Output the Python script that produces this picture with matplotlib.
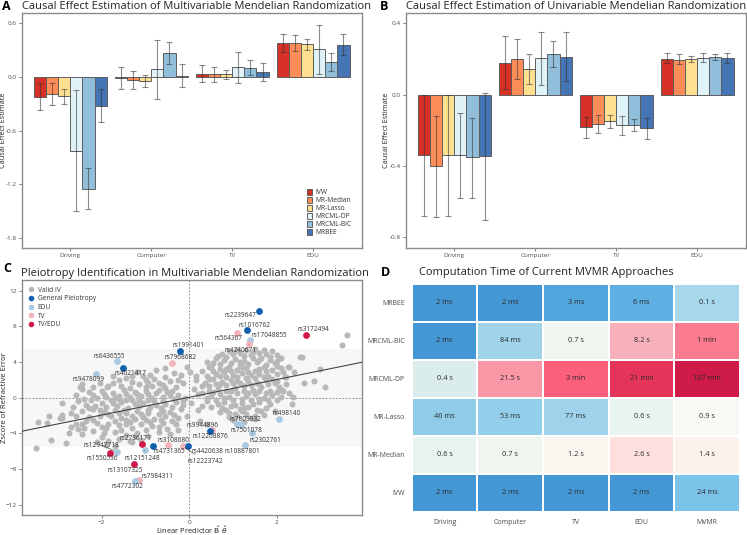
import numpy as np
import matplotlib
matplotlib.use("Agg")
import matplotlib.pyplot as plt
from matplotlib.colors import LinearSegmentedColormap, Normalize
from matplotlib.lines import Line2D

plt.rcParams['font.family'] = ['Open Sans', 'DejaVu Sans']

# ---------------- data ----------------
exposures = ["Driving", "Computer", "TV", "EDU"]
methods = ["IVW", "MR-Median", "MR-Lasso", "MRCML-DP", "MRCML-BIC", "MRBEE"]
method_colors = ["#d73027", "#fc8d59", "#fee090", "#e0f3f8", "#91bfdb", "#4575b4"]

# panel A: multivariable MR (rows = methods, cols = exposures)
mvmr_est = [[-0.220, -0.010, 0.037, 0.376],
            [-0.194, -0.034, 0.030, 0.376],
            [-0.216, -0.040, 0.034, 0.365],
            [-0.830, 0.086, 0.108, 0.309],
            [-1.256, 0.265, 0.100, 0.168],
            [-0.320, 0.015, 0.052, 0.360]]
mvmr_lo = [[-0.370, -0.130, -0.060, 0.276],
           [-0.317, -0.138, -0.056, 0.287],
           [-0.305, -0.108, -0.022, 0.298],
           [-1.500, -0.250, -0.063, 0.030],
           [-1.480, 0.142, 0.019, 0.063],
           [-0.507, -0.116, -0.048, 0.246]]
mvmr_hi = [[-0.070, 0.108, 0.134, 0.477],
           [-0.070, 0.063, 0.116, 0.466],
           [-0.130, 0.026, 0.082, 0.429],
           [-0.145, 0.410, 0.283, 0.578],
           [-1.020, 0.388, 0.186, 0.272],
           [-0.138, 0.142, 0.153, 0.477]]

# panel B: univariable MR
uvmr_est = [[-0.336, 0.179, -0.179, 0.202],
            [-0.400, 0.198, -0.164, 0.196],
            [-0.336, 0.142, -0.150, 0.200],
            [-0.340, 0.204, -0.172, 0.207],
            [-0.351, 0.226, -0.170, 0.209],
            [-0.346, 0.209, -0.189, 0.204]]
uvmr_lo = [[-0.677, 0.030, -0.245, 0.176],
           [-0.684, 0.086, -0.217, 0.172],
           [-0.677, 0.060, -0.189, 0.185],
           [-0.578, 0.052, -0.226, 0.183],
           [-0.578, 0.153, -0.204, 0.194],
           [-0.700, 0.075, -0.250, 0.178]]
uvmr_hi = [[0.000, 0.331, -0.123, 0.232],
           [-0.120, 0.310, -0.114, 0.226],
           [0.000, 0.230, -0.116, 0.219],
           [-0.105, 0.353, -0.118, 0.232],
           [-0.129, 0.300, -0.138, 0.226],
           [0.011, 0.350, -0.129, 0.232]]

# panel C: valid IVs (grey cloud)
valid_iv = [
    (-0.55, 3.3), (-0.9, 2.6), (-1.2, 2.9), (-0.35, 2.8), (-0.75, 3.1), (-1.45, 2.2), (-0.2, 2.5), (-1.05, 2.4),
    (-2.45, 1.5), (-2.2, 1.2), (-1.85, 1.3), (-1.6, 2.0), (-1.3, 1.8), (-1.0, 2.0), (-0.7, 1.7), (-0.45, 1.9),
    (-0.15, 1.6), (-1.15, 1.5), (-0.85, 1.3), (-0.55, 1.1), (-0.3, 1.2), (-2.5, 1.2), (-2.45, 1.0), (-1.87, 1.16),
    (-2.6, 0.3), (-2.3, 0.6), (-2.0, 0.8), (-1.75, 0.5), (-1.5, 0.9), (-1.25, 0.6), (-1.0, 0.8), (-0.75, 0.5),
    (-0.5, 0.6), (-0.25, 0.3), (-1.9, 0.1), (-1.6, 0.2), (-1.35, 0.1), (-1.1, 0.2), (-0.85, 0.0), (-0.6, 0.1),
    (-0.35, -0.1), (-0.1, 0.0), (-2.12, -0.03),
    (-2.9, -0.6), (-2.55, -0.4), (-2.25, -0.3), (-2.0, -0.6), (-1.8, -0.2), (-1.55, -0.5), (-1.3, -0.3),
    (-1.05, -0.6), (-0.8, -0.4), (-0.55, -0.7), (-0.3, -0.5), (-2.15, -0.9), (-1.9, -1.0), (-1.65, -0.9),
    (-1.4, -1.1), (-1.15, -0.9), (-0.9, -1.0), (-0.65, -1.2), (-0.4, -1.0),
    (-2.9, -1.9), (-2.7, -1.7), (-2.45, -1.5), (-2.2, -1.3), (-1.95, -1.6), (-1.7, -1.4), (-1.45, -1.7),
    (-1.2, -1.5), (-0.95, -1.4), (-0.7, -1.8), (-0.45, -1.6), (-0.2, -1.3), (-2.05, -2.0), (-1.8, -2.1),
    (-1.55, -2.3), (-1.3, -2.0), (-1.05, -2.2), (-0.8, -2.4), (-0.55, -2.1),
    (-3.25, -2.8), (-2.9, -2.3), (-2.6, -3.0), (-2.35, -2.6), (-2.1, -2.8), (-1.85, -2.9), (-1.6, -3.1),
    (-1.35, -2.7), (-1.1, -3.0), (-0.85, -3.2), (-0.6, -2.8), (-0.3, -3.0), (-2.4, -3.4),
    (-2.75, -3.9), (-2.45, -4.1), (-2.2, -3.7), (-1.95, -4.0), (-1.7, -3.8), (-1.45, -4.2), (-1.2, -3.9),
    (-0.95, -4.3), (-0.7, -3.8), (-0.45, -4.1), (-1.6, -4.6), (-1.85, -4.8), (-1.35, -4.9), (-1.1, -4.7),
    (-3.5, -5.6), (-3.15, -4.75), (-2.82, -5.1), (-2.1, -5.0), (-1.9, -5.3), (-1.7, -5.45), (-1.3, -5.0),
    (-3.45, -2.75), (-3.2, -2.0), (-2.95, -2.3), (-2.7, -3.3), (-2.55, -3.5), (-2.65, -1.0), (-2.35, -0.8),
    (-1.7, 0.0), (-1.45, -0.2), (-1.2, 0.4), (-0.95, -0.2), (-1.55, 1.3), (-0.7, 0.9), (-0.4, 0.8),
    (-1.75, -0.6), (-1.25, -0.7), (-0.75, -0.8), (-1.6, -1.7), (-1.1, -1.8), (-0.6, -1.5), (-2.3, -2.2),
    (-1.45, -2.5), (-0.9, -2.7), (-2.0, -3.3), (-1.3, -3.4), (-0.5, -3.5), (-1.95, 0.45), (-0.25, -2.3),
    (-1.0, 1.2), (-0.55, 2.3), (-1.35, 1.1), (-2.05, -1.35), (-2.6, -2.0),
    (-2.05, 1.7), (-1.75, 1.7), (-0.95, 1.65), (-0.6, 1.45), (-0.25, 2.0), (-2.2, 0.25), (-1.45, 0.45),
    (-0.95, 0.45), (-0.45, 0.25), (-0.15, -0.35), (-2.4, -0.15), (-1.6, -0.15), (-1.15, -0.3),
    (-0.6, -0.35), (-2.3, -1.1), (-1.5, -1.35), (-0.95, -1.75), (-0.35, -1.95), (-1.85, -1.8),
    (-1.25, -2.35), (-0.65, -2.45), (-2.2, -2.45), (-1.7, -2.6), (-1.0, -2.5), (-0.4, -2.6),
    (-1.45, -3.0), (-0.7, -3.3), (-1.9, -3.45), (-1.55, -3.6), (-1.0, -3.6), (-2.45, -3.0),
    (-1.25, -4.3), (-2.0, -4.4), (-0.25, -3.6), (-0.15, -0.8), (-0.8, 2.1), (-1.3, 2.4), (-1.75, 2.4),
    (-0.06, 3.48), (0.02, 2.9), (0.15, 2.4), (0.1, 1.0), (0.05, -0.6), (0.2, -1.4), (-0.05, -2.0),
    (0.25, -2.6), (0.4, -3.0), (0.2, 0.4), (0.3, -0.9),
    (0.9, 5.2), (1.1, 5.4), (1.3, 5.3), (1.5, 5.5), (1.7, 5.4), (1.9, 5.2), (1.45, 5.1), (1.75, 4.9),
    (2.0, 4.8), (0.75, 4.9),
    (0.4, 4.0), (0.6, 4.4), (0.85, 4.6), (1.05, 4.3), (1.25, 4.7), (1.45, 4.4), (1.65, 4.5), (1.85, 4.2),
    (2.1, 4.5), (0.95, 3.9), (1.35, 3.8), (1.55, 4.0), (1.75, 3.7), (0.7, 3.8), (1.15, 3.6), (1.95, 3.9),
    (0.3, 3.0), (0.5, 3.4), (0.7, 3.2), (0.9, 3.5), (1.1, 3.1), (1.3, 3.3), (1.5, 3.0), (1.7, 3.4),
    (1.9, 3.1), (2.1, 3.3), (2.28, 3.5), (0.6, 2.7), (0.8, 2.9), (1.0, 2.6), (1.2, 2.8), (1.4, 2.5),
    (1.6, 2.7), (1.8, 2.4), (2.0, 2.7), (2.2, 2.3), (0.4, 2.4),
    (0.15, 2.0), (0.35, 1.7), (0.55, 2.1), (0.75, 1.8), (0.95, 2.0), (1.15, 1.6), (1.35, 1.9), (1.55, 1.7),
    (1.75, 2.0), (1.95, 1.6), (0.45, 1.3), (0.65, 1.0), (0.85, 1.4), (1.05, 1.1), (1.25, 1.3), (1.45, 0.9),
    (1.65, 1.2), (1.85, 0.8), (2.05, 1.2), (2.2, 1.5),
    (0.3, 0.5), (0.5, 0.2), (0.7, 0.4), (0.9, 0.1), (1.1, 0.5), (1.3, 0.2), (1.5, 0.4), (1.7, 0.0),
    (1.9, 0.3), (2.1, 0.1), (0.6, -0.3), (0.8, -0.5), (1.0, -0.2), (1.2, -0.6), (1.4, -0.3), (1.6, -0.5),
    (1.8, -0.2), (0.5, -1.0), (0.75, -1.2), (0.95, -0.9), (1.15, -1.3), (1.35, -1.0), (1.55, -1.4),
    (1.75, -1.1), (1.95, -1.5), (0.9, -1.7), (1.1, -2.0), (1.3, -1.8), (1.5, -2.1), (1.7, -1.9),
    (1.0, -2.5), (1.25, -2.7), (1.5, -2.4),
    (3.6, 7.0), (3.48, 5.87), (2.99, 3.18), (3.09, 1.23), (2.86, 1.87), (2.63, 1.68), (2.29, 0.52),
    (2.35, -0.71), (2.19, 2.28), (2.53, 4.52), (2.57, 4.6), (2.4, 2.9), (2.26, 3.48), (2.37, 0.1),
    (2.11, 0.86),
    (1.0, 4.9), (1.6, 5.0), (0.55, 3.9), (1.25, 4.1), (0.85, 2.3), (1.3, 2.2), (1.7, 2.3), (0.6, 1.5),
    (1.0, 1.6), (1.4, 1.4), (1.8, 1.5), (0.45, 0.8), (0.85, 0.8), (1.25, 0.8), (1.6, 0.7), (2.0, 0.6),
    (0.4, -0.4), (1.05, -0.8), (1.45, -0.7), (0.7, -1.6), (1.2, -1.5), (1.85, -0.7),
    (0.65, 4.7), (1.15, 5.0), (1.4, 4.8), (1.85, 4.6), (0.8, 4.2), (1.15, 4.0), (1.6, 4.25), (2.0, 4.1),
    (0.45, 3.5), (0.85, 3.2), (1.2, 3.45), (1.6, 3.25), (2.0, 3.55), (0.55, 2.95), (0.95, 3.0),
    (1.35, 2.85), (1.75, 2.95), (2.15, 2.9), (0.45, 2.1), (0.7, 2.4), (1.1, 2.3), (1.5, 2.2), (1.9, 2.1),
    (0.3, 1.3), (0.7, 1.55), (1.1, 1.9), (1.6, 1.5), (2.0, 1.9), (0.55, 0.6), (0.95, 0.75), (1.35, 0.55),
    (1.75, 0.5), (2.15, 0.8), (0.4, 0.0), (0.8, 0.0), (1.2, -0.1), (1.6, -0.1), (2.0, -0.3),
    (0.65, -0.75), (0.85, -1.35), (1.25, -1.15), (1.65, -1.5), (1.05, -1.8), (1.4, -2.3), (0.9, -2.2),
]

# flagged IVs: name, x, y, group
flag_names = ["rs2239647", "rs1016762", "rs17048855", "rs564367", "rs3172494", "rs4240671",
              "rs1991401", "rs7968682", "rs6436555", "rs4021417", "rs9478099", "rs498140",
              "rs7809932", "rs7501078", "rs2302761", "rs10887801", "rs12208876", "rs9944896",
              "rs12223742", "rs4420638", "rs3108680", "rs4731365", "rs2736171", "rs12947718",
              "rs1550536", "rs12151248", "rs13107325", "rs7984311", "rs4772302"]
flag_x = [1.585, 1.326, 1.379, 1.09, 2.66, 1.364, -0.213, -0.389, -1.646, -1.524, -2.126, 2.04,
          1.10, 1.19, 1.425, 1.28, 0.53, 0.48, -0.15, -0.02, -0.49, -0.82, -1.07, -1.65,
          -1.81, -1.02, -1.26, -1.14, -1.23]
flag_y = [9.72, 7.55, 6.47, 7.29, 7.07, 5.98, 5.23, 3.93, 4.07, 3.36, 2.65, -2.36,
          -2.99, -3.10, -4.0, -5.35, -3.62, -3.73, -5.42, -5.42, -5.34, -5.38, -5.19, -6.05,
          -6.2, -5.9, -7.43, -9.23, -9.34]
flag_group = ["General Pleiotropy", "General Pleiotropy", "EDU", "TV", "TV/EDU", "TV",
              "General Pleiotropy", "TV", "EDU", "General Pleiotropy", "EDU", "EDU",
              "EDU", "EDU", "EDU", "EDU", "TV", "General Pleiotropy",
              "TV", "General Pleiotropy", "TV", "General Pleiotropy", "TV/EDU", "EDU",
              "TV/EDU", "EDU", "TV/EDU", "TV", "EDU"]
# where each label text sits (data coords) and whether a segment is drawn
label_x = [1.17, 1.50, 1.83, 0.90, 2.84, 1.18, -0.02, -0.21, -1.83, -1.34, -2.31, 2.22,
           1.29, 1.31, 1.74, 1.22, 0.49, 0.30, 0.37, 0.42, -0.37, -0.46, -1.24, -2.0,
           -1.98, -1.07, -1.46, -0.72, -1.42]
label_y = [9.27, 8.15, 6.99, 6.62, 7.63, 5.27, 5.87, 4.52, 4.67, 2.69, 2.06, -1.76,
           -2.39, -3.63, -4.82, -6.06, -4.30, -3.10, -7.18, -6.06, -4.75, -6.06, -4.60, -5.35,
           -6.84, -6.84, -8.11, -8.86, -9.98]
label_segment = ["rs4240671", "rs2302761", "rs12223742", "rs12947718", "rs12151248"]

group_names = ["Valid IV", "General Pleiotropy", "EDU", "TV", "TV/EDU"]
group_colors = ["#b8b8b8", "#0f5fae", "#a9c9e2", "#f2b3bb", "#d2184a"]
reg_slope, reg_intercept = 0.995, 0.05
band_limit = 5.5

# panel D: computation times
heat_rows = ["MRBEE", "MRCML-BIC", "MRCML-DP", "MR-Lasso", "MR-Median", "IVW"]
heat_cols = ["Driving", "Computer", "TV", "EDU", "MVMR"]
time_labels = [["2 ms", "2 ms", "3 ms", "6 ms", "0.1 s"],
               ["2 ms", "84 ms", "0.7 s", "8.2 s", "1 min"],
               ["0.4 s", "21.5 s", "3 min", "21 min", "107 min"],
               ["46 ms", "53 ms", "77 ms", "0.6 s", "0.9 s"],
               ["0.6 s", "0.7 s", "1.2 s", "2.6 s", "1.4 s"],
               ["2 ms", "2 ms", "2 ms", "2 ms", "24 ms"]]

# colour anchors on log10(seconds)
time_anchor_log = [-2.7, -2.52, -2.2, -1.6, -1.1, -0.4, 0.0, 0.4, 0.9, 1.8, 2.25, 3.1, 3.81]
time_anchor_col = ["#4497d5", "#53a9de", "#5fb1e1", "#7cc4e9", "#9fd4eb", "#daedec", "#fbfbf3",
                   "#fde0df", "#f8b1bc", "#fa7c8e", "#fc5f7a", "#e6355a", "#ce1b48"]


def to_seconds(label):
    val, unit = label.split()
    return float(val) * {"ms": 1e-3, "s": 1.0, "min": 60.0}[unit]


TICK_C = "#4d4d4d"
FRAME_C = "#8c8c8c"

fig = plt.figure(figsize=(7.47, 5.35), dpi=100)


def px_axes(left, top, right, bottom):
    W, H = 747.0, 535.0
    return fig.add_axes([left / W, 1 - bottom / H, (right - left) / W, (bottom - top) / H])


def draw_bars(ax, est, lo, hi, ylim, yticks, label_x):
    n = len(methods)
    width = 0.15
    x = np.arange(1, len(exposures) + 1)
    for i, m in enumerate(methods):
        pos = x + (i - (n - 1) / 2) * width
        e = np.array(est[i])
        ax.bar(pos, e, width, color=method_colors[i], edgecolor="#5e5e5e", linewidth=0.7,
               label=m, zorder=2)
        ax.errorbar(pos, e, yerr=[e - np.array(lo[i]), np.array(hi[i]) - e], fmt="none",
                    ecolor="#303030", alpha=0.55, elinewidth=0.8, capsize=2.4, capthick=0.8,
                    zorder=3)
    ax.set_xlim(0.4, 4.6)
    ax.set_ylim(*ylim)
    ax.set_xticks(x)
    ax.set_xticklabels(exposures)
    ax.set_yticks(yticks)
    ax.set_yticklabels(["%.1f" % t for t in yticks])
    ax.tick_params(labelsize=4.6, colors=TICK_C, length=2, width=0.5, pad=1.5)
    for s in ax.spines.values():
        s.set_color(FRAME_C)
        s.set_linewidth(1.0)
    ax.set_ylabel("Causal Effect Estimate", fontsize=5.2, color="#222222", va="center")
    ax.yaxis.set_label_coords(label_x, 0.5)


# ---- A ----
axA = px_axes(21.7, 13.3, 361.7, 248)
draw_bars(axA, mvmr_est, mvmr_lo, mvmr_hi, (-1.915, 0.713), [0.6, 0.0, -0.6, -1.2, -1.8],
          (3.8 - 21.7) / 340)
axA.set_title("Causal Effect Estimation of Multivariable Mendelian Randomization", fontsize=8.0,
              color="#222222", pad=3, x=0.515)
leg = axA.legend(loc="lower right", bbox_to_anchor=(0.985, 0.03), fontsize=4.8, frameon=False,
                 handlelength=0.8, handleheight=1.0, labelspacing=0.12, handletextpad=0.5,
                 borderpad=0.2)
for t in leg.get_texts():
    t.set_color("#333333")

# ---- B ----
axB = px_axes(405.7, 13.3, 745.7, 248)
draw_bars(axB, uvmr_est, uvmr_lo, uvmr_hi, (-0.859, 0.456), [0.4, 0.0, -0.4, -0.8],
          (386.8 - 405.7) / 340)
axB.set_title("Causal Effect Estimation of Univariable Mendelian Randomization", fontsize=8.0,
              color="#222222", pad=3)

# ---- C ----
axC = px_axes(21.7, 280, 361.7, 515)
axC.axhspan(-band_limit, band_limit, color="#f7f7f7", zorder=0, lw=0)
axC.axhline(0, color="#777777", ls=(0, (2, 2)), lw=0.6, zorder=1)
axC.axvline(0, color="#777777", ls=(0, (2, 2)), lw=0.6, zorder=1)
vx, vy = np.array(valid_iv).T
axC.scatter(vx, vy, s=19, color=group_colors[0], lw=0, zorder=2)
xl = np.array([-3.83, 3.94])
axC.plot(xl, reg_intercept + reg_slope * xl, color="#444444", lw=0.8, zorder=3)
for i, nm in enumerate(flag_names):
    col = group_colors[group_names.index(flag_group[i])]
    axC.scatter(flag_x[i], flag_y[i], s=24, color=col, lw=0, zorder=4 + i * 0.01)
    seg = dict(arrowstyle="-", color="#333333", lw=0.4, shrinkA=1, shrinkB=2) if nm in label_segment else None
    axC.annotate(nm, (flag_x[i], flag_y[i]), xytext=(label_x[i], label_y[i]), textcoords="data",
                 fontsize=4.7, color="#333333", ha="center", va="center", zorder=5,
                 arrowprops=seg)
axC.set_xlim(-3.83, 3.94)
axC.set_ylim(-13.15, 13.2)
axC.set_xticks([-2, 0, 2])
axC.set_yticks([12, 8, 4, 0, -4, -8, -12])
axC.tick_params(labelsize=4.6, colors=TICK_C, length=2, width=0.5, pad=1.5)
for s in axC.spines.values():
    s.set_color(FRAME_C)
    s.set_linewidth(1.0)
axC.set_ylabel("Zscore of Refractive Error", fontsize=5.6, color="#222222", va="center")
axC.yaxis.set_label_coords((4.8 - 21.7) / 340, 0.5)
axC.set_xlabel(r"Linear Predictor $\hat{\mathrm{B}}\ \hat{\theta}$", fontsize=5.4, color="#222222",
               va="center")
axC.xaxis.set_label_coords(0.5, -(530.5 - 515) / 235)
axC.set_title("Pleiotropy Identification in Multivariable Mendelian Randomization", fontsize=8.0,
              color="#222222", pad=3, x=0.51)
handles = [Line2D([], [], marker="o", ls="", ms=4.0, mec="none", mfc=c) for c in group_colors]
legC = axC.legend(handles, group_names, loc="upper left", bbox_to_anchor=(0.0, 1.0), fontsize=4.8,
                  frameon=False, handlelength=0.8, labelspacing=0.25, handletextpad=0.6,
                  borderpad=0.5)
for t in legC.get_texts():
    t.set_color("#333333")

# ---- D ----
axD = px_axes(411.7, 284, 740, 511.7)
secs = np.array([[to_seconds(s) for s in row] for row in time_labels])
logv = np.log10(secs)
lo_a, hi_a = time_anchor_log[0], time_anchor_log[-1]
cmap = LinearSegmentedColormap.from_list(
    "time", [((v - lo_a) / (hi_a - lo_a), c) for v, c in zip(time_anchor_log, time_anchor_col)])
axD.pcolormesh(logv, cmap=cmap, norm=Normalize(lo_a, hi_a), edgecolors="#ffffff", linewidth=0.3)
for r in range(len(heat_rows)):
    for c in range(len(heat_cols)):
        axD.text(c + 0.5, r + 0.5, time_labels[r][c], ha="center", va="center", fontsize=5.3,
                 color="#2b2b2b")
axD.set_xlim(0, len(heat_cols))
axD.set_ylim(len(heat_rows), 0)
axD.set_xticks(np.arange(len(heat_cols)) + 0.5)
axD.set_xticklabels(heat_cols)
axD.set_yticks(np.arange(len(heat_rows)) + 0.5)
axD.set_yticklabels(heat_rows)
axD.tick_params(labelsize=5.0, colors=TICK_C, length=0, pad=5)
for s in axD.spines.values():
    s.set_visible(False)
fig.text(419 / 747, 1 - 272.7 / 535, "Computation Time of Current MVMR Approaches", fontsize=8.0,
         color="#222222", ha="left", va="center")

# panel letters
for lab, (px, py) in zip("ABCD", [(6, 6), (384, 7), (7, 268), (386, 272)]):
    fig.text(px / 747, 1 - py / 535, lab, fontsize=9, fontweight="bold", ha="center", va="center")

fig.savefig("out.png", dpi=100)
